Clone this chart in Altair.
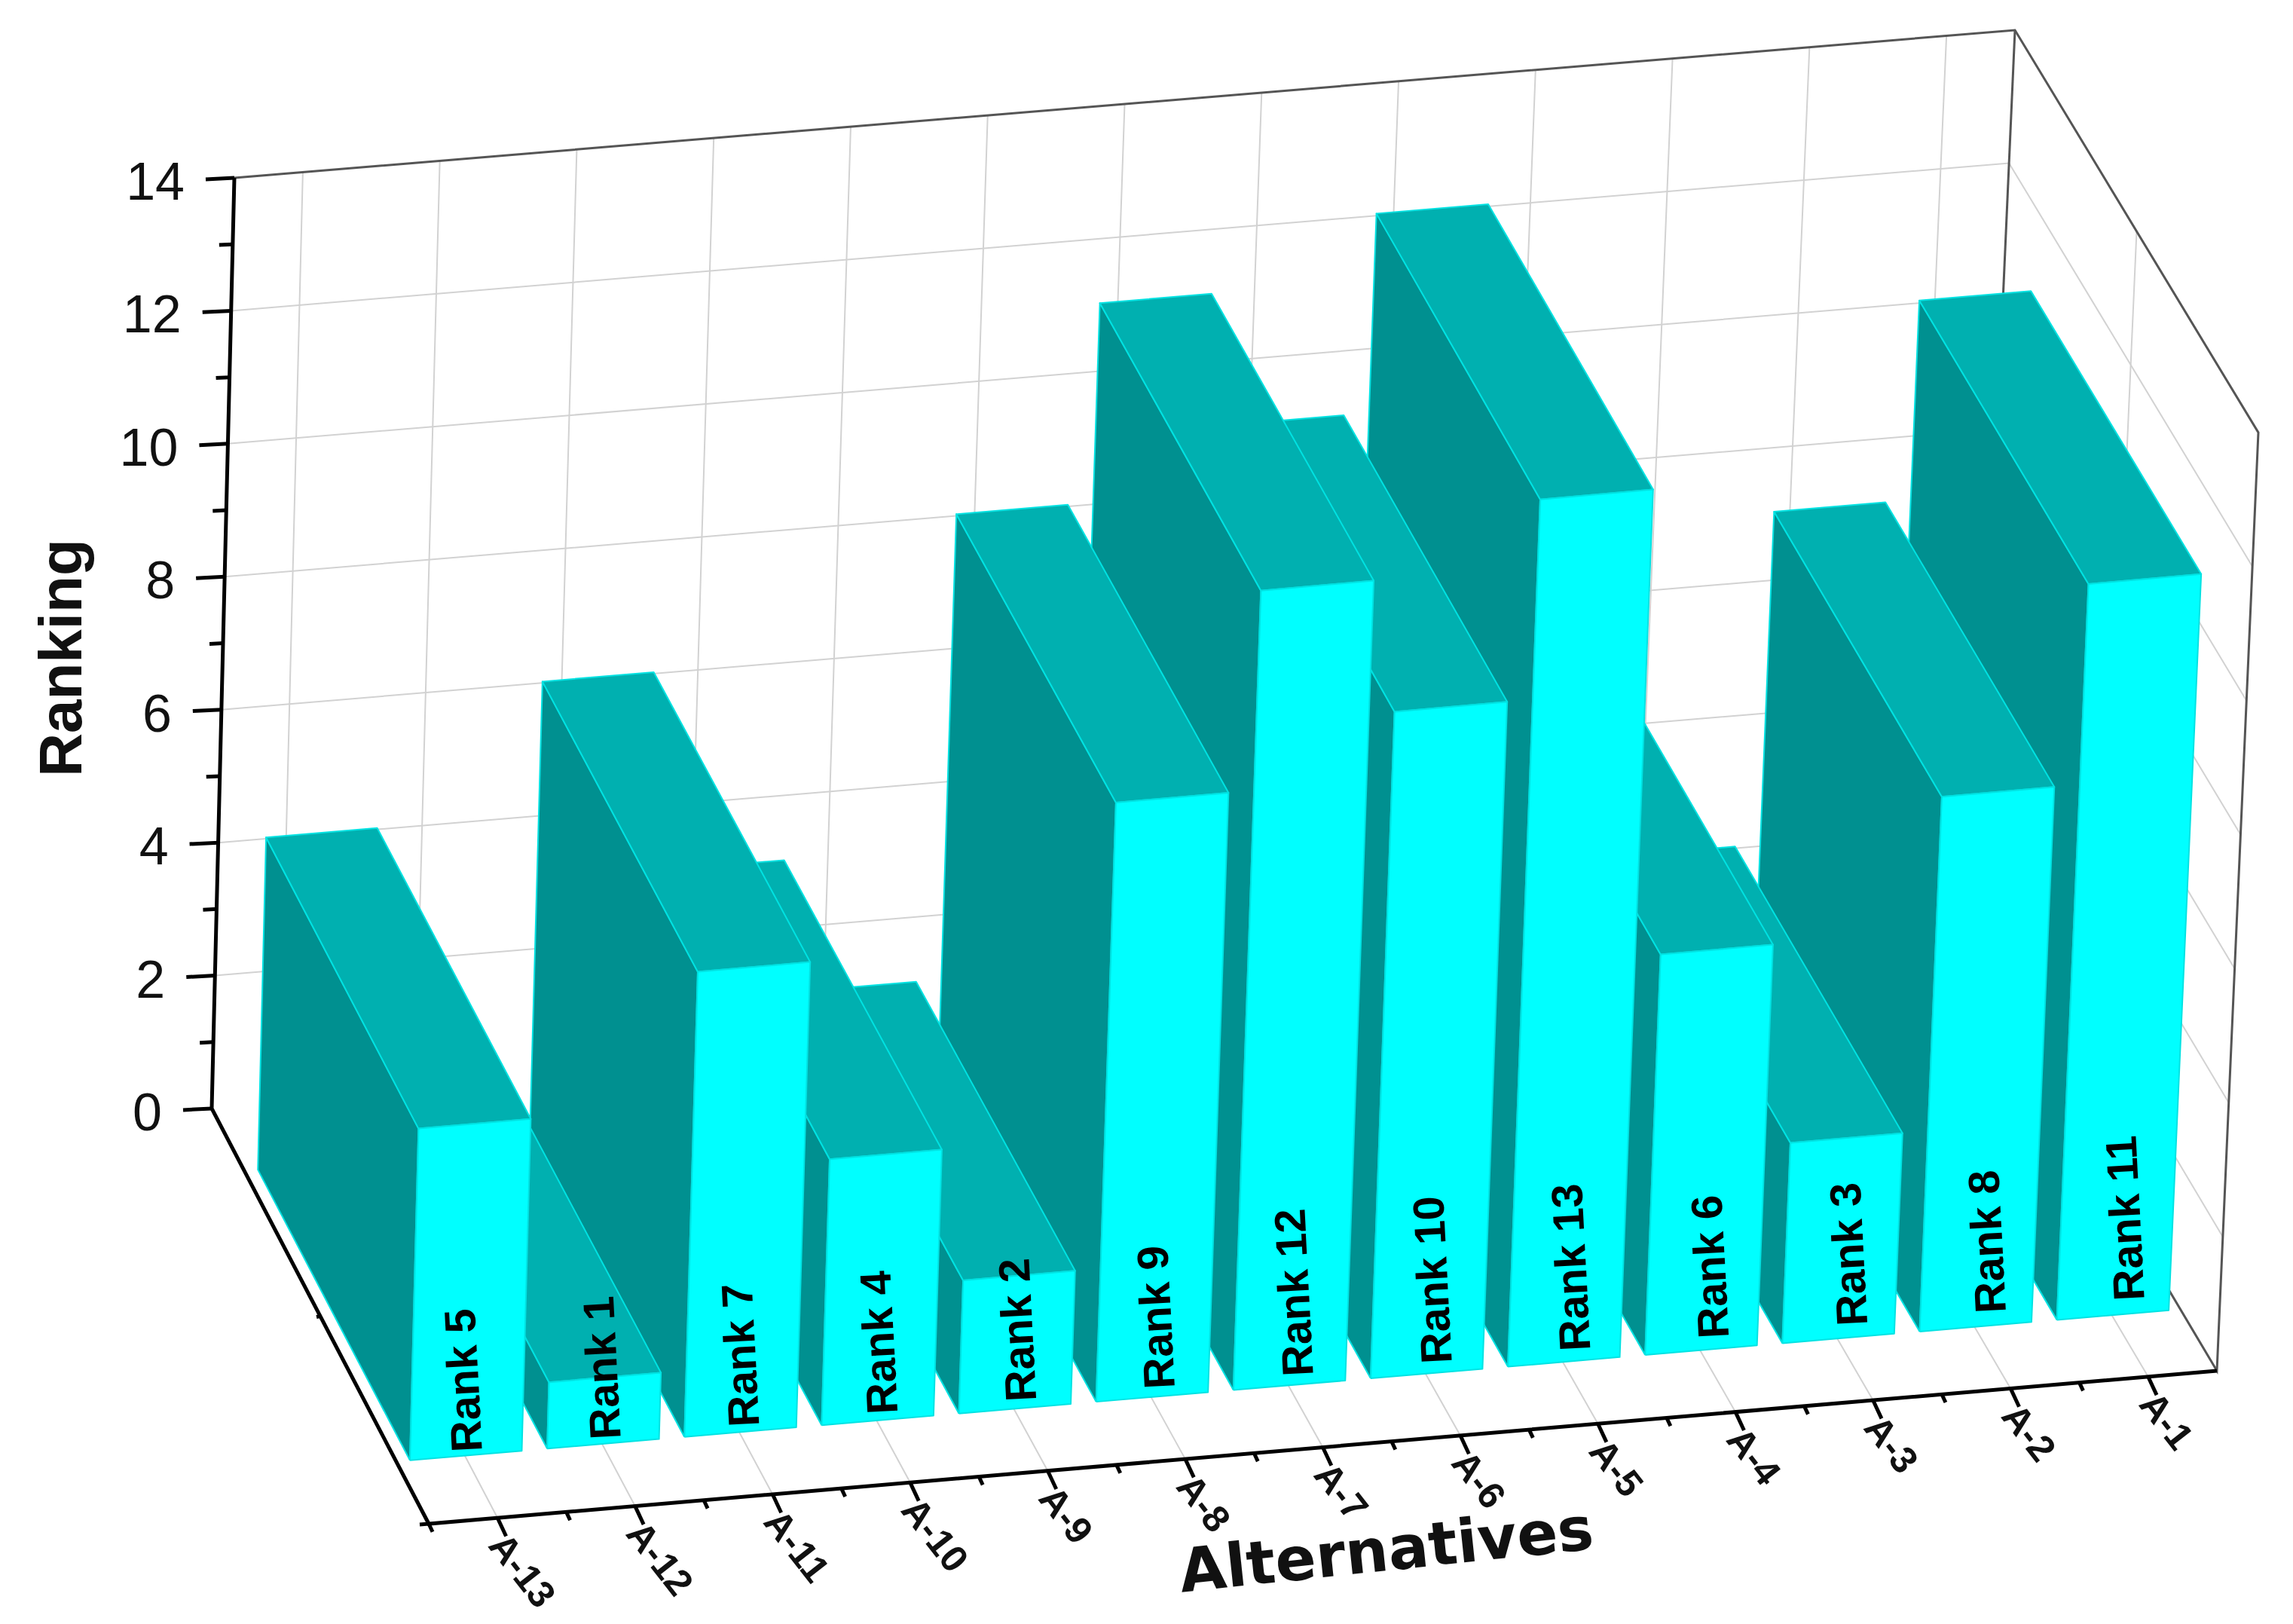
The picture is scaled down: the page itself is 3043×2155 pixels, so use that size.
import altair as alt
import pandas as pd

alternatives = ["A-1","A-2","A-3","A-4","A-5","A-6","A-7","A-8","A-9","A-10","A-11","A-12","A-13"]
ranks = [11,8,3,6,13,10,12,9,2,4,7,1,5]
z_ticks = [0,2,4,6,8,10,12,14]
z_minor = [1,3,5,7,9,11,13]

N = 13
ZMAX = 14
# projected corners of the plot box (u: left-right, d: front-back, z: up)
B_LF, B_RF, B_LB, B_RB = (569,2022), (2942,1819), (281,1471), (2619,1275)
T_LF, T_RF, T_LB, T_RB = (601,790), (2997,574), (311,236), (2674,40)
BAR_L, BAR_R, D_F, D_B = 0.10, 0.915, 0.15, 0.85

def lerp(a, b, t):
    return (a[0]+(b[0]-a[0])*t, a[1]+(b[1]-a[1])*t)

def P(u, d, z):
    u, z = u/N, z/ZMAX
    bot = lerp(lerp(B_LF, B_RF, u), lerp(B_LB, B_RB, u), d)
    top = lerp(lerp(T_LF, T_RF, u), lerp(T_LB, T_RB, u), d)
    return lerp(bot, top, z)

lines = []
def add_line(style, pts):
    lid = len(lines)
    lines.extend({"id": lid, "k": k, "x": p[0], "y": p[1], "style": style} for k, p in enumerate(pts))

# grid
for i in range(N):
    c = i + 0.5
    add_line("grid", [P(c,0,0), P(c,1,0), P(c,1,ZMAX)])
for z in z_ticks[1:-1]:
    add_line("grid", [P(0,1,z), P(N,1,z), P(N,0,z)])
add_line("grid", [P(N,0.5,0), P(N,0.5,ZMAX)])
# box edges
add_line("edge", [P(0,1,ZMAX), P(N,1,ZMAX), P(N,0,ZMAX), P(N,0,0), P(N,1,0)])
add_line("edge", [P(N,1,ZMAX), P(N,1,0)])
# axes
add_line("axis", [P(0,1,ZMAX), P(0,1,0), P(0,0,0), P(N,0,0)])
for z in z_ticks + z_minor:
    p = P(0,1,z)
    ln = 38 if z in z_ticks else 18
    add_line("axis", [p, (p[0]-ln, p[1]+ln*0.05)])
for u in [i*0.5 for i in range(0, 2*N)]:
    p = P(u,0,0)
    major = (u % 1) == 0.5
    ln = 27 if major else 12
    add_line("axis", [p, (p[0]+ln*0.42, p[1]+ln*0.9)])
p = P(0,0,0)
add_line("axis", [p, (p[0]-12, p[1]+1)])
p = P(0,0.5,0)
add_line("axis", [p, (p[0]-5, p[1]+1)])
lines_df = pd.DataFrame(lines)

# bars, painted right to left
polys = []
FRONT, TOP, SIDE = "#00FFFF", "#00B0B0", "#009090"
for i, (name, r) in enumerate(zip(alternatives, ranks)):
    u = N - 1 - i
    l, h = u + BAR_L, u + BAR_R
    faces = [
        (SIDE, [P(l,D_F,0), P(l,D_B,0), P(l,D_B,r), P(l,D_F,r)]),
        (TOP, [P(l,D_F,r), P(l,D_B,r), P(h,D_B,r), P(h,D_F,r)]),
        (FRONT, [P(l,D_F,0), P(h,D_F,0), P(h,D_F,r), P(l,D_F,r)]),
    ]
    for colour, pts in faces:
        pid = len(polys)
        pts = pts + [pts[0]]
        polys.extend({"pid": pid, "k": k, "x": q[0], "y": q[1], "fill": colour} for k, q in enumerate(pts))
polys_df = pd.DataFrame(polys)

X = alt.X("x:Q", axis=None, scale=alt.Scale(domain=[8,3028], nice=False, zero=False))
Y = alt.Y("y:Q", axis=None, scale=alt.Scale(domain=[2146,8], nice=False, zero=False))

def line_layer(style, colour, w):
    return alt.Chart(lines_df[lines_df["style"]==style]).mark_line(
        color=colour, strokeWidth=w, strokeJoin="miter", strokeCap="butt", clip=False
    ).encode(x=X, y=Y, detail="id:N", order="k:Q")

poly_layer = alt.Chart(polys_df).mark_line(stroke="#00E2E2", strokeWidth=2, strokeJoin="round").encode(
    x=X, y=Y, detail="pid:N", order="k:Q", fill=alt.Fill("fill:N", scale=None, legend=None)
)

# text
z_text = pd.DataFrame([{"x": P(0,1,z)[0]-66, "y": P(0,1,z)[1]+8, "t": str(z)} for z in z_ticks])
x_text = pd.DataFrame([{"x": P(N-1-i+0.5,0,0)[0]-2, "y": P(N-1-i+0.5,0,0)[1]+28, "t": n} for i, n in enumerate(alternatives)])
rank_text = pd.DataFrame([
    {"x": P(N-1-i+0.5,D_F,0)[0]+6+(12-i)*1.7, "y": P(N-1-i+0.5,D_F,0)[1]-5-(12-i)*1.2, "t": f"Rank {r}"}
    for i, r in enumerate(ranks)
])
title_y = pd.DataFrame([{"x": 84, "y": 873, "t": "Ranking"}])
title_x = pd.DataFrame([{"x": 1840, "y": 2060, "t": "Alternatives"}])

def text_layer(df, **kw):
    return alt.Chart(df).mark_text(**kw).encode(x=X, y=Y, text="t:N")

chart = alt.layer(
    line_layer("grid", "#D2D2D2", 2),
    line_layer("edge", "#555555", 3),
    line_layer("axis", "#000000", 5),
    poly_layer,
    text_layer(z_text, align="right", baseline="middle", font="Liberation Sans", fontSize=70, color="#111111"),
    text_layer(x_text, align="left", baseline="middle", angle=52, font="Liberation Sans", fontWeight="bold", fontSize=50, color="#111111"),
    text_layer(rank_text, align="left", baseline="middle", angle=267, font="Liberation Sans", fontWeight="bold", fontSize=58, color="#000000"),
    text_layer(title_y, align="center", baseline="middle", angle=270, font="Liberation Sans", fontWeight="bold", fontSize=80, color="#111111"),
    text_layer(title_x, align="center", baseline="middle", angle=354, font="DejaVu Sans", fontWeight="bold", fontSize=80, color="#111111"),
).properties(width=3020, height=2138, padding=0, background="#FFFFFF", autosize=alt.AutoSizeParams(type="none")
).configure_view(stroke=None)

chart.save("out.html", embed_options={"renderer": "svg", "actions": False})
